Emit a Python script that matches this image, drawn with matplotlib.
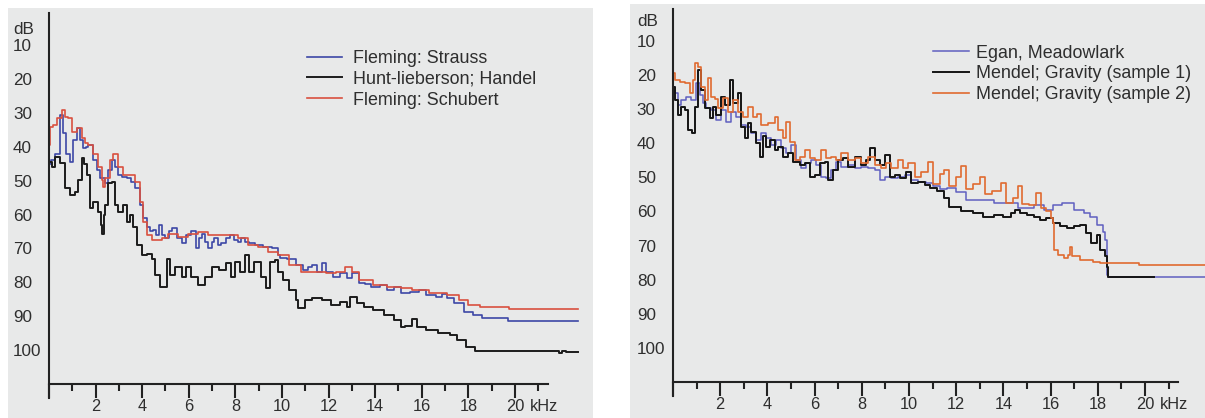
import matplotlib
matplotlib.use("Agg")
import matplotlib.pyplot as plt
import numpy as np

plt.rcParams['font.family'] = ['Liberation Sans', 'DejaVu Sans']

# ---- left panel: Fleming / Hunt-Lieberson ----
strauss_khz = [0.0, 0.1, 0.25, 0.47, 0.6, 0.75, 0.9, 1.05, 1.19, 1.35, 1.47, 1.6, 1.69, 1.9, 2.05,
               2.19, 2.4, 2.55, 2.69, 2.85, 2.98, 3.15, 3.33, 3.5, 3.69, 3.9, 4.05, 4.19, 4.35, 4.48,
               4.6, 4.7, 4.85, 4.98, 5.15, 5.3, 5.5, 5.7, 5.9, 6.1, 6.3, 6.45, 6.55, 6.7, 6.84, 7.0,
               7.1, 7.25, 7.4, 7.6, 7.77, 7.95, 8.1, 8.25, 8.4, 8.6, 8.84, 9.2, 9.56, 9.84, 9.91,
               10.2, 10.6, 10.9, 11.1, 11.3, 11.5, 11.7, 11.9, 12.2, 12.5, 12.8, 13.0, 13.3, 13.55,
               13.8, 14.2, 14.5, 14.8, 15.1, 15.5, 15.9, 16.2, 16.6, 16.85, 17.1, 17.4, 17.8, 18.2,
               18.6, 19.6, 19.7, 22.7]
strauss_db = [45, 44, 42, 30.6, 36, 42, 44.4, 38, 34.6, 38, 40.5, 40, 39.5, 43.9, 47,
              49.3, 50.8, 47, 43.9, 46, 48.3, 49, 49.3, 50.5, 52.3, 57.2, 61, 63.6, 65, 64.6,
              66, 63.1, 66, 67, 65, 64.1, 67, 68.5, 66, 65, 70, 67, 65.6, 68, 70, 68,
              67, 69, 68.5, 67, 66, 67.5, 68, 67, 68, 68.5, 69, 69.5, 70, 72, 72.9,
              73.2, 74.9, 76.3, 75.5, 74.9, 76.8, 74.4, 76.8, 78.3, 77.3, 78.8, 77.3, 80.3, 80.5,
              81.3, 80.8, 82.2, 81.3, 83.2, 82.7, 82.2, 83.7, 84.2, 83.5, 84.7, 86.2, 88.6, 89.6,
              90.6, 90.6, 91.3, 91.3]

handel_khz = [0.0, 0.11, 0.26, 0.47, 0.69, 0.9, 1.12, 1.26, 1.4, 1.5, 1.62, 1.76, 1.9, 2.1, 2.22,
              2.29, 2.35, 2.4, 2.55, 2.69, 2.83, 2.98, 3.19, 3.33, 3.48, 3.62, 3.76, 4.0, 4.19, 4.4,
              4.55, 4.76, 4.95, 5.05, 5.19, 5.4, 5.7, 5.9, 6.1, 6.4, 6.7, 7.0, 7.3, 7.6, 7.8, 8.0,
              8.2, 8.4, 8.6, 8.8, 9.1, 9.3, 9.5, 9.7, 9.85, 10.05, 10.3, 10.6, 10.7, 11.0, 11.3,
              11.7, 12.1, 12.5, 12.8, 12.9, 13.2, 13.5, 13.9, 14.4, 14.8, 15.1, 15.3, 15.6, 15.8,
              16.2, 16.7, 17.2, 17.5, 17.9, 18.3, 21.8, 21.9, 22.0, 22.2, 22.7]
handel_db = [44.4, 45.9, 42.9, 44.9, 52.3, 54.2, 53.3, 49.8, 43.4, 45, 48.3, 58.2, 56.2, 59.2, 63,
             65.6, 60, 57.2, 50.8, 50.3, 57.2, 59.2, 57.2, 62.1, 60.2, 63.6, 69, 72, 71.5, 73,
             77.8, 81.3, 81.3, 73, 77.8, 75.4, 78.3, 75.4, 78.3, 80.8, 78.3, 75.4, 76.4, 74.4, 78.3, 73.9,
             76.9, 72, 76.9, 73.9, 78.3, 81.8, 73.9, 73.4, 76.9, 79.3, 82.2, 85.2, 87.7, 85.2, 84.7,
             85.2, 86.7, 85.7, 87.2, 84.2, 86.2, 87.2, 88.1, 89.6, 91.1, 93.1, 92.9, 90.9, 93.1,
             94.1, 95, 95.5, 97, 99, 100.1, 100.1, 100.7, 100.1, 100.6, 100.6]

schubert_khz = [0.0, 0.04, 0.19, 0.33, 0.54, 0.69, 0.83, 0.97, 1.19, 1.4, 1.55, 1.69, 1.9, 2.12, 2.26,
                2.33, 2.4, 2.62, 2.76, 2.98, 3.19, 3.48, 3.69, 3.9, 4.05, 4.19, 4.4, 4.83, 5.1, 5.55,
                5.98, 6.4, 6.84, 7.27, 7.7, 8.1, 8.55, 8.98, 9.4, 9.84, 10.3, 10.8, 11.3, 11.9, 12.3,
                12.7, 13.0, 13.3, 13.9, 14.5, 15.1, 15.6, 16.3, 17.1, 17.6, 18.0, 18.5, 19.7, 19.75, 22.7]
schubert_db = [39.5, 34.1, 33.6, 31.6, 29.2, 31.1, 31.6, 35.6, 34.6, 37.5, 39, 39.5, 42, 45.9, 49.8,
               52, 49.3, 43.9, 42, 45.9, 48.3, 48.3, 50.3, 56.2, 62.1, 66, 67.5, 67, 65.6, 66.5,
               65.6, 65.1, 66, 66, 66, 67, 69, 69.5, 71, 72, 75, 76.8, 76.8, 77.3, 76.8,
               75.4, 76.8, 79.3, 80.8, 81.5, 81.8, 82.2, 83, 83.7, 85.2, 86.7, 87.4, 87.4, 88, 88]

# ---- right panel: Egan / Mendel ----
egan_khz = [0.0, 0.07, 0.21, 0.35, 0.56, 0.78, 0.99, 1.13, 1.27, 1.41, 1.62, 1.84, 2.05, 2.26, 2.47,
            2.68, 2.9, 3.11, 3.32, 3.53, 3.74, 3.95, 4.17, 4.38, 4.59, 4.8, 5.01, 5.23, 5.44, 5.65,
            5.86, 6.07, 6.29, 6.5, 6.71, 6.92, 7.13, 7.42, 7.7, 7.98, 8.26, 8.55, 8.76, 8.97, 9.25,
            9.53, 9.82, 10.1, 10.38, 10.73, 11.0, 11.3, 11.6, 12.0, 12.4, 12.9, 13.6, 14.0, 14.3,
            14.6, 15.3, 15.7, 16.1, 16.5, 16.97, 17.4, 17.67, 17.95, 18.2, 18.3, 18.37, 18.44, 22.6]
egan_db = [23.4, 25.3, 28.8, 27.3, 26.3, 27.3, 22.4, 25.8, 28.3, 29.7, 30.2, 33.2, 30.2, 33.7, 30.7,
           32.2, 34.6, 35.1, 37.1, 39.0, 37.1, 38.5, 40.5, 39, 41.5, 42.9, 40.5, 44.9, 47.3, 45.9,
           44.9, 46.4, 49.8, 50.3, 47.8, 45.4, 46.9, 46.4, 47.3, 46.9, 47.3, 47.8, 50.8, 49.8, 50.3,
           49.8, 49.3, 50.8, 51.3, 51.7, 52.5, 53.5, 53, 54.2, 56.6, 56.7, 57.6, 57.6, 57.6,
           59, 58.1, 59.5, 58.1, 57.6, 59.5, 60.5, 61.5, 63.9, 65.9, 68.3, 78.6, 79.1, 79.1]

gravity1_khz = [0.0, 0.07, 0.21, 0.35, 0.49, 0.64, 0.8, 0.92, 1.06, 1.2, 1.34, 1.55, 1.69, 1.84, 2.05,
                2.19, 2.4, 2.54, 2.75, 2.9, 3.04, 3.18, 3.32, 3.53, 3.67, 3.81, 3.95, 4.1, 4.31, 4.45,
                4.66, 4.87, 5.08, 5.37, 5.58, 5.79, 6.0, 6.21, 6.43, 6.57, 6.78, 6.99, 7.2, 7.42, 7.7,
                7.98, 8.19, 8.36, 8.55, 8.76, 8.97, 9.18, 9.39, 9.6, 9.89, 10.1, 10.38, 10.66, 10.9,
                11.2, 11.5, 11.7, 12.2, 12.7, 13.15, 13.6, 14.0, 14.3, 14.5, 14.7, 15.0, 15.3, 15.55,
                15.8, 16.1, 16.4, 16.7, 16.97, 17.25, 17.5, 17.7, 17.95, 18.1, 18.3, 18.37, 18.44, 20.4]
gravity1_db = [23.4, 27.3, 31.7, 29.3, 30.2, 36.1, 37.1, 29.3, 18.5, 24.4, 29.7, 32.7, 29.3, 31.7, 26.3,
               28.8, 21.4, 28.3, 25.3, 35.1, 38.5, 34.1, 36.6, 40, 43.9, 38, 41, 39, 42, 41,
               43.9, 42.9, 45.4, 46.4, 45.9, 49.8, 49.3, 45.9, 45.4, 50.8, 47.8, 44.9, 44.4, 46.9, 43.9,
               46.4, 44.9, 41.5, 44.9, 46.4, 43.4, 49.8, 49.3, 50.3, 48.3, 51.7, 51.3, 52.2, 53,
               54, 56, 58.6, 60, 60.5, 61.5, 61, 61.5, 60.5, 59.5, 60.5, 61, 61.5, 62.5,
               62, 63.4, 64.4, 64.9, 64.4, 63.9, 66.4, 69.3, 66.9, 71.3, 73.2, 76.2, 79.1, 79.1]

gravity2_khz = [0.0, 0.07, 0.28, 0.49, 0.71, 0.85, 0.92, 1.06, 1.2, 1.34, 1.48, 1.62, 1.76, 1.91, 2.12,
                2.33, 2.54, 2.75, 2.97, 3.18, 3.39, 3.55, 3.74, 4.03, 4.31, 4.45, 4.66, 4.8, 4.94, 5.16,
                5.37, 5.58, 5.79, 6.0, 6.29, 6.5, 6.7, 6.92, 7.13, 7.42, 7.7, 7.98, 8.26, 8.54, 8.83,
                9.04, 9.25, 9.53, 9.75, 9.96, 10.24, 10.5, 10.8, 11.0, 11.3, 11.5, 11.7, 12.0, 12.2,
                12.4, 12.7, 13.0, 13.2, 13.5, 13.9, 14.1, 14.4, 14.6, 14.8, 15.1, 15.4, 15.6, 15.8,
                16.0, 16.1, 16.15, 16.3, 16.55, 16.75, 16.8, 16.9, 17.25, 17.67, 17.8, 18.1, 19.7, 19.75, 22.6]
gravity2_db = [19.5, 21.4, 21.9, 22.4, 25.4, 21.4, 16.5, 17.5, 23.4, 27.3, 21, 26.3, 27, 29.7, 26.8,
               30.7, 27.3, 30.7, 32.2, 29.3, 32.2, 31.5, 34.6, 34.1, 32.2, 36.1, 38.5, 33.7, 39.5, 44.9,
               43.9, 42, 44.4, 44.9, 42, 44.4, 44, 44.9, 43, 44.9, 44.4, 45.9, 43.9, 46.4, 47.3,
               45.9, 47.3, 44.9, 47.3, 45.9, 49.8, 48.3, 45.5, 52, 49, 47.8, 52.5, 50, 46.8,
               53.5, 52, 49.8, 55, 54, 51.7, 57.5, 56, 52.5, 57.8, 58, 54.5, 59, 60,
               62, 63.5, 71.3, 72.7, 73.7, 72.7, 70.3, 73.2, 74.2, 74.2, 74.7, 75.2, 75.2, 75.7, 75.7]

db_ticks = [10, 20, 30, 40, 50, 60, 70, 80, 90, 100]
khz_major = [0, 2, 4, 6, 8, 10, 12, 14, 16, 18, 20]
khz_labels = ['', '2', '4', '6', '8', '10', '12', '14', '16', '18', '20']
khz_minor = [1, 3, 5, 7, 9, 11, 13, 15, 17, 19, 21]

BG = '#e8e9e9'
TXT = '#2e2e2e'


def style_panel(ax, xlim, ylim, db_label_y):
    ax.set_facecolor(BG)
    ax.set_xlim(*xlim)
    ax.set_ylim(*ylim)
    for s in ('top', 'right'):
        ax.spines[s].set_visible(False)
    ax.spines['left'].set_position(('data', 0))
    ax.spines['bottom'].set_position(('data', 110))
    ax.spines['left'].set_bounds(0.5, 114)
    ax.spines['bottom'].set_bounds(0, 21.4)
    for s in ('left', 'bottom'):
        ax.spines[s].set_linewidth(1.5)
        ax.spines[s].set_color('#222222')
    ax.set_yticks([db_label_y] + db_ticks)
    ax.set_yticklabels(['dB'] + [str(v) for v in db_ticks])
    ax.yaxis.set_tick_params(length=0, pad=26, labelsize=12.3, labelcolor=TXT)
    for lbl in ax.get_yticklabels():
        lbl.set_horizontalalignment('left')
    ax.set_xticks(khz_major)
    ax.set_xticklabels(khz_labels)
    ax.set_xticks(khz_minor, minor=True)
    ax.xaxis.set_tick_params(which='major', length=10, width=1.5, pad=1,
                             labelsize=11.8, labelcolor=TXT, color='#222222')
    ax.xaxis.set_tick_params(which='minor', length=5, width=1.5, color='#222222')
    ax.annotate('kHz', xy=(20, 110), xytext=(10.5, -11), textcoords='offset points',
                ha='left', va='top', fontsize=11.8, color=TXT)


fig = plt.figure(figsize=(12.05, 4.18), dpi=100)

ax1 = fig.add_axes([8 / 1205, 0, 585 / 1205, 410 / 418])
style_panel(ax1, (-1.76, 23.35), (120.0, -0.91), 5.1)
ax1.plot(strauss_khz, strauss_db, drawstyle='steps-post', color='#3d47a6', lw=1.2,
         label='Fleming: Strauss')
ax1.plot(handel_khz, handel_db, drawstyle='steps-post', color='#1c1c1c', lw=1.4,
         label='Hunt-lieberson; Handel')
ax1.plot(schubert_khz, schubert_db, drawstyle='steps-post', color='#d9503f', lw=1.2,
         label='Fleming: Schubert')
ax1.legend(loc='upper left', bbox_to_anchor=(307 / 1205, (418 - 50) / 418),
           bbox_transform=fig.transFigure, frameon=False, fontsize=12.9,
           borderpad=0, borderaxespad=0, handlelength=1.95, handletextpad=0.62,
           labelspacing=0.21, labelcolor=TXT)

ax2 = fig.add_axes([630 / 1205, 0, 575 / 1205, 414 / 418])
style_panel(ax2, (-1.82, 22.54), (120.6, -0.85), 3.7)
ax2.plot(egan_khz, egan_db, drawstyle='steps-post', color='#5f5fc0', lw=1.1,
         label='Egan, Meadowlark')
ax2.plot(gravity1_khz, gravity1_db, drawstyle='steps-post', color='#151515', lw=1.4,
         label='Mendel; Gravity (sample 1)')
ax2.plot(gravity2_khz, gravity2_db, drawstyle='steps-post', color='#e06a30', lw=1.2,
         label='Mendel; Gravity (sample 2)')
ax2.legend(loc='upper left', bbox_to_anchor=(933 / 1205, (418 - 44.5) / 418),
           bbox_transform=fig.transFigure, frameon=False, fontsize=12.9,
           borderpad=0, borderaxespad=0, handlelength=2.0, handletextpad=0.4,
           labelspacing=0.21, labelcolor=TXT)

fig.savefig('out.png', dpi=100, facecolor='white')
